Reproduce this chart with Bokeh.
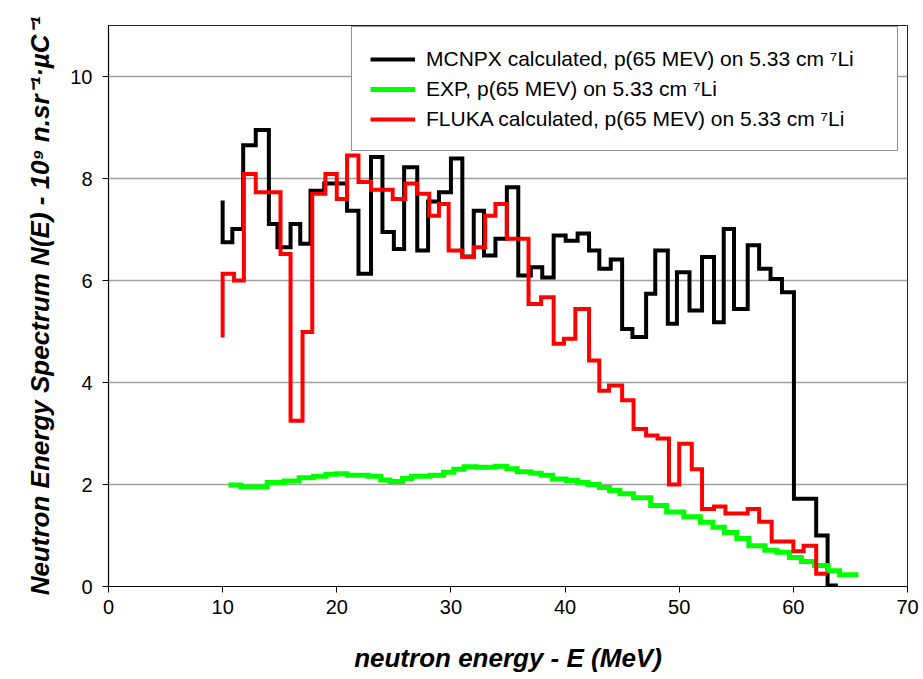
from bokeh.plotting import figure
from bokeh.models import Range1d, FixedTicker, Legend, LegendItem
from bokeh.embed import file_html
from bokeh.resources import INLINE

# ---- data (bin edges in MeV, values in 10^9 n/sr/uC) ----
mcnpx_edges = [10.0, 10.0, 10.85, 11.8, 12.9, 14.05, 14.8, 15.95, 16.8, 17.7, 18.9, 20.9, 21.9,
               23.0, 24.0, 25.0, 25.9, 27.05, 28.0, 28.95, 30.0, 31.0, 32.0, 32.9, 33.9, 34.9,
               35.9, 37.0, 38.0, 39.0, 40.05, 41.1, 42.1, 43.0, 44.0, 45.0, 45.9, 47.1, 47.9,
               49.0, 49.8, 50.9, 52.0, 53.05, 53.9, 54.8, 56.0, 57.0, 58.0, 59.0, 60.05, 62.0,
               63.0, 63.9]
mcnpx_values = [7.57, 6.75, 7.01, 8.65, 8.95, 7.11, 6.65, 7.11, 6.72, 7.76, 7.9, 7.37, 6.13,
                8.42, 6.95, 6.62, 8.22, 6.59, 7.55, 7.73, 8.39, 6.47, 7.37, 6.49, 6.82, 7.83,
                6.1, 6.26, 6.06, 6.88, 6.78, 6.92, 6.59, 6.23, 6.41, 5.05, 4.89, 5.74, 6.59,
                5.15, 6.16, 5.41, 6.46, 5.18, 7.01, 5.44, 6.69, 6.23, 6.03, 5.77, 1.72, 1.0,
                0.02]

exp_edges = [10.5, 11.6, 13.9, 15.4, 16.7, 17.95, 19.05, 20.0, 20.9, 22.75, 23.85, 24.65,
             25.75, 26.55, 28.15, 29.35, 30.25, 31.15, 32.2, 33.9, 34.9, 35.8, 37.0, 37.9,
             38.9, 40.1, 41.1, 42.0, 43.0, 43.9, 44.8, 46.0, 47.5, 48.9, 50.4, 51.85, 52.95,
             53.95, 55.05, 56.1, 57.5, 58.55, 59.65, 60.7, 61.85, 63.05, 64.05, 65.7]
exp_values = [1.99, 1.95, 2.04, 2.07, 2.13, 2.16, 2.2, 2.21, 2.18, 2.16, 2.09, 2.06, 2.12,
              2.16, 2.18, 2.24, 2.3, 2.35, 2.34, 2.36, 2.31, 2.25, 2.22, 2.18, 2.11, 2.08,
              2.04, 2.0, 1.94, 1.88, 1.82, 1.74, 1.59, 1.46, 1.37, 1.26, 1.16, 1.06, 0.94,
              0.8, 0.71, 0.67, 0.57, 0.49, 0.41, 0.31, 0.23]

fluka_edges = [10.0, 10.0, 11.0, 11.86, 12.9, 15.07, 15.95, 17.0, 17.85, 19.0, 20.0, 20.9,
               21.9, 23.0, 24.9, 26.0, 27.05, 28.1, 28.95, 29.8, 31.0, 32.0, 33.0, 33.9, 34.9,
               36.8, 37.9, 39.0, 39.9, 40.9, 42.1, 43.0, 43.85, 45.0, 46.0, 47.1, 48.1, 49.1,
               50.0, 51.1, 52.0, 53.05, 54.05, 56.0, 57.0, 58.1, 60.0, 60.9, 62.0, 63.0]
fluka_values = [4.88, 6.13, 6.0, 8.09, 7.73, 6.52, 3.25, 4.99, 7.7, 8.09, 7.6, 8.45, 7.93,
                7.78, 7.6, 7.9, 7.7, 7.27, 7.5, 6.59, 6.46, 6.65, 7.27, 7.5, 6.82, 5.54, 5.67,
                4.76, 4.86, 5.44, 4.43, 3.84, 3.94, 3.65, 3.09, 2.96, 2.90, 2.0, 2.8, 2.3,
                1.52, 1.57, 1.43, 1.52, 1.27, 0.88, 0.69, 0.8, 0.25]

series_labels = ["MCNPX calculated, p(65 MEV) on 5.33 cm \u2077Li",
                 "EXP, p(65 MEV) on 5.33 cm \u2077Li",
                 "FLUKA calculated, p(65 MEV) on 5.33 cm \u2077Li"]
x_ticks = [0, 10, 20, 30, 40, 50, 60, 70]
y_ticks = [0, 2, 4, 6, 8, 10]


def step_xy(edges, values):
    xs, ys = [], []
    for i, v in enumerate(values):
        xs += [edges[i], edges[i + 1]]
        ys += [v, v]
    return xs, ys


FONT = "Liberation Sans"

p = figure(width=923, height=679, output_backend="svg", toolbar_location=None,
           x_range=Range1d(0, 70), y_range=Range1d(0, 11))
p.min_border_left = 108
p.min_border_right = 16
p.min_border_top = 25
p.min_border_bottom = 93
p.background_fill_color = "white"
p.border_fill_color = "white"
p.outline_line_color = "#222222"
p.outline_line_width = 1

p.xgrid.grid_line_color = None
p.ygrid.grid_line_color = "#a0a0a0"
p.ygrid.grid_line_width = 1.5
p.ygrid.ticker = FixedTicker(ticks=y_ticks)

for ax in (p.xaxis[0], p.yaxis[0]):
    ax.axis_line_color = "black"
    ax.axis_line_width = 1.2
    ax.major_tick_line_color = "black"
    ax.major_tick_out = 6
    ax.major_tick_in = 0
    ax.minor_tick_line_color = None
    ax.major_label_text_font = FONT
    ax.major_label_text_font_size = "20px"
    ax.major_label_text_color = "black"
    ax.axis_label_text_font = FONT
    ax.axis_label_text_font_size = "26px"
    ax.axis_label_text_font_style = "bold italic"
    ax.axis_label_text_color = "black"

p.xaxis.ticker = FixedTicker(ticks=x_ticks)
p.yaxis.ticker = FixedTicker(ticks=y_ticks)
p.xaxis.major_label_standoff = 7
p.yaxis.major_label_standoff = 10
p.xaxis.axis_label = "neutron energy - E (MeV)"
p.yaxis.axis_label = "Neutron Energy Spectrum N(E) - 10\u2079 n.sr\u207b\u00b9\u00b7\u00b5C\u207b\u00b9"
p.xaxis.axis_label_standoff = 26
p.yaxis.axis_label_standoff = 12

bx, by = step_xy(mcnpx_edges, mcnpx_values)
gx, gy = step_xy(exp_edges, exp_values)
rx, ry = step_xy(fluka_edges, fluka_values)

r_black = p.line(bx, by, line_color="black", line_width=4, line_join="miter")
r_green = p.line(gx, gy, line_color="#00ff00", line_width=5, line_join="miter")
r_red = p.line(rx, ry, line_color="#ff0000", line_width=4, line_join="miter")

legend = Legend(items=[LegendItem(label=series_labels[0], renderers=[r_black]),
                       LegendItem(label=series_labels[1], renderers=[r_green]),
                       LegendItem(label=series_labels[2], renderers=[r_red])],
                location=(243, 435))
legend.label_text_font = FONT
legend.label_text_font_size = "21px"
legend.label_text_color = "black"
legend.glyph_width = 45
legend.glyph_height = 20
legend.label_height = 27
legend.label_width = 453
legend.spacing = 3
legend.padding = 18
legend.margin = 0
legend.label_standoff = 11
legend.border_line_color = "#222222"
legend.border_line_width = 1
legend.background_fill_color = "white"
legend.background_fill_alpha = 1
p.add_layout(legend, "center")

open("out.html", "w").write(file_html(p, INLINE))
